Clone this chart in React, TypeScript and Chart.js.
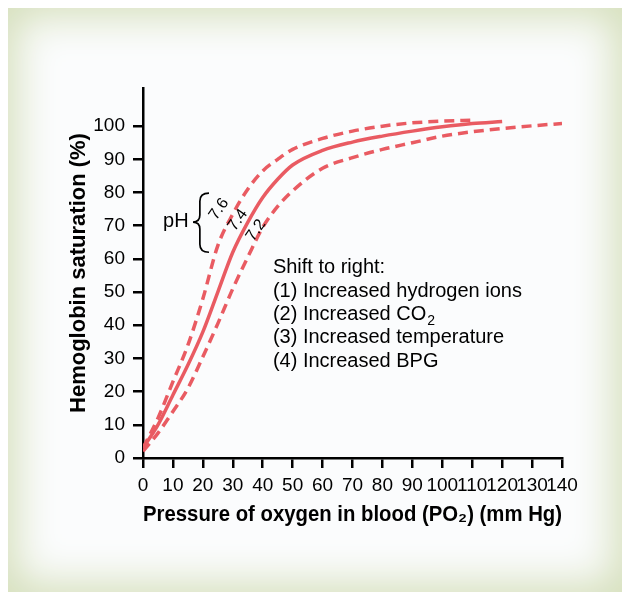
import React, { useEffect, useRef } from "react";
import { Chart, registerables } from "chart.js";
Chart.register(...registerables);

const FONT = "'Liberation Sans', Arial, Helvetica, sans-serif";
const RED = "#e95b62";

// pH 7.6 (left dashed curve)
const po2_76 = [0, 5, 10, 15, 20, 25, 30, 35, 40, 45, 50, 60, 70, 80, 90, 100, 110];
const sat_76 = [3, 12, 23, 34, 48, 64, 73.5, 81, 86.5, 90, 93, 96.3, 98.5, 100, 101, 101.5, 101.8];
// pH 7.4 (solid curve)
const po2_74 = [0, 5, 10, 15, 20, 25, 30, 35, 40, 45, 50, 60, 70, 80, 90, 100, 110, 120];
const sat_74 = [3, 10, 19, 28, 38, 50, 62, 71, 78.5, 84, 88.3, 92.7, 95.2, 97, 98.5, 99.8, 100.8, 101.4];
// pH 7.2 (right dashed curve)
const po2_72 = [0, 5, 10, 15, 20, 25, 30, 35, 40, 45, 50, 60, 70, 80, 90, 100, 110, 120, 130, 140];
const sat_72 = [2, 7.5, 14, 21, 30.5, 40.5, 51, 60.5, 69.5, 75.8, 80.5, 87.3, 90.5, 93, 95, 97, 98.3, 99.3, 100.1, 100.8];

const xTicks = [0, 10, 20, 30, 40, 50, 60, 70, 80, 90, 100, 110, 120, 130, 140];
const yTicks = [0, 10, 20, 30, 40, 50, 60, 70, 80, 90, 100];

const phLabels = ["7.6", "7.4", "7.2"];
const phLabelX = [25.4, 31.7, 37.8];
const phLabelY = [75.0, 71.7, 68.6];

const noteLines = ["Shift to right:", "(1) Increased hydrogen ions", "(2) Increased CO", "(3) Increased temperature", "(4) Increased BPG"];

const pts = (xs: number[], ys: number[]) => xs.map((x, i) => ({ x, y: ys[i] }));

const annotations = {
  id: "annotations",
  afterDraw(chart: any) {
    const { ctx, scales } = chart;
    const X = (v: number) => scales.x.getPixelForValue(v);
    const Y = (v: number) => scales.y.getPixelForValue(v);
    ctx.save();
    ctx.fillStyle = "#000";
    ctx.strokeStyle = "#000";
    // pH text
    ctx.font = `20px ${FONT}`;
    ctx.textAlign = "left";
    ctx.textBaseline = "alphabetic";
    ctx.fillText("pH", X(6.7), Y(69.5));
    // brace
    const xs = X(19.0), xt = X(22.05), xp = X(16.7);
    const yt = Y(79.8), yb = Y(62.0), yc = Y(71.1);
    ctx.lineWidth = 1.7;
    ctx.beginPath();
    ctx.moveTo(xt, yt);
    ctx.quadraticCurveTo(xs, yt, xs, yt + 8);
    ctx.lineTo(xs, yc - 7);
    ctx.quadraticCurveTo(xs, yc, xp, yc);
    ctx.quadraticCurveTo(xs, yc, xs, yc + 7);
    ctx.lineTo(xs, yb - 8);
    ctx.quadraticCurveTo(xs, yb, xt, yb);
    ctx.stroke();
    // rotated pH values
    ctx.font = `16px ${FONT}`;
    ctx.textAlign = "center";
    ctx.textBaseline = "middle";
    phLabels.forEach((t, i) => {
      ctx.save();
      ctx.translate(X(phLabelX[i]), Y(phLabelY[i]));
      ctx.rotate((-55 * Math.PI) / 180);
      ctx.fillText(t, 0, 0);
      ctx.restore();
    });
    // notes
    ctx.font = `20px ${FONT}`;
    ctx.textAlign = "left";
    ctx.textBaseline = "alphabetic";
    const nx = X(43.4);
    const ny = Y(55.7);
    const lh = 23.4;
    noteLines.forEach((t, i) => {
      ctx.fillText(t, nx, ny + i * lh);
      if (i === 2) {
        const w = ctx.measureText(t).width;
        ctx.font = `14px ${FONT}`;
        ctx.fillText("2", nx + w + 1, ny + i * lh + 5);
        ctx.font = `20px ${FONT}`;
      }
    });
    ctx.restore();
  },
};

export default function App() {
  const ref = useRef<HTMLCanvasElement | null>(null);
  useEffect(() => {
    if (!ref.current) return;
    const common = {
      borderColor: RED,
      borderWidth: 3.5,
      pointRadius: 0,
      fill: false,
      cubicInterpolationMode: "monotone" as const,
    };
    const chart = new Chart(ref.current, {
      type: "line",
      data: {
        datasets: [
          { ...common, label: "pH 7.6", data: pts(po2_76, sat_76), borderDash: [10, 6] },
          { ...common, label: "pH 7.4", data: pts(po2_74, sat_74) },
          { ...common, label: "pH 7.2", data: pts(po2_72, sat_72), borderDash: [10, 6] },
        ],
      },
      options: {
        responsive: false,
        animation: false,
        layout: { padding: { top: 80, right: 60, left: 0, bottom: 0 } },
        plugins: { legend: { display: false }, tooltip: { enabled: false } },
        scales: {
          x: {
            type: "linear",
            min: 0,
            max: 140,
            afterBuildTicks: (s: any) => {
              s.ticks = xTicks.map((v) => ({ value: v }));
            },
            afterFit: (s: any) => {
              s.height = 134;
            },
            ticks: { autoSkip: false, maxRotation: 0, minRotation: 0, color: "#000", font: { size: 19, family: FONT }, padding: 6 },
            grid: { drawOnChartArea: false, drawTicks: true, tickLength: 10, color: "#000", lineWidth: 2.5 },
            border: { color: "#000", width: 2.5 },
            title: {
              display: true,
              text: "Pressure of oxygen in blood (PO₂) (mm Hg)",
              color: "#000",
              font: { size: 21.5, weight: "bold", family: FONT },
              padding: { top: 0, bottom: 64 },
            },
          },
          y: {
            type: "linear",
            min: 0,
            max: 111.5,
            afterBuildTicks: (s: any) => {
              s.ticks = yTicks.map((v) => ({ value: v }));
            },
            afterFit: (s: any) => {
              s.width = 135;
            },
            ticks: { color: "#000", font: { size: 19, family: FONT }, padding: 8 },
            grid: { drawOnChartArea: false, drawTicks: true, tickLength: 10, color: "#000", lineWidth: 2.5 },
            border: { color: "#000", width: 2.5 },
            title: {
              display: true,
              text: "Hemoglobin saturation (%)",
              color: "#000",
              font: { size: 22, weight: "bold", family: FONT },
              padding: { top: 58, bottom: 0 },
            },
          },
        },
      },
      plugins: [annotations],
    });
    return () => chart.destroy();
  }, []);

  return (
    <div
      style={{
        position: "relative",
        width: 614,
        height: 584,
        background: "#fbfcfd",
        boxShadow: "inset 0 0 40px 9px #d5dfbb",
      }}
    >
      <canvas ref={ref} width={614} height={584} style={{ position: "absolute", left: 0, top: 0, display: "block" }} />
    </div>
  );
}
